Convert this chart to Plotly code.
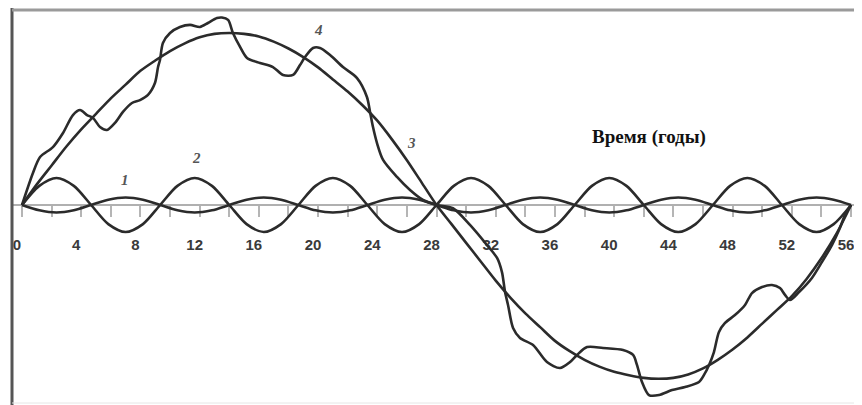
import plotly.graph_objects as go

# ---- data (y in arbitrary units, curve 3 amplitude ~10) ----
years = list(range(0, 57))
curve3 = [0, 1.2, 2.3, 3.4, 4.4, 5.3, 6.2, 7.0, 7.8, 8.4, 8.95, 9.4, 9.75, 9.95, 10.0,
          9.95, 9.8, 9.5, 9.1, 8.6, 8.0, 7.3, 6.6, 5.8, 4.9, 3.8, 2.6, 1.3, 0,
          -1.1, -2.2, -3.3, -4.4, -5.4, -6.3, -7.1, -7.9, -8.5, -9.0, -9.4, -9.7, -9.9,
          -10.05, -10.1, -10.05, -9.85, -9.5, -9.0, -8.4, -7.7, -6.9, -6.1, -5.3, -4.3,
          -3.1, -1.7, 0]

short_x = [0, 1.17, 2.33, 3.5, 4.67, 5.83, 7.0, 8.17, 9.33, 10.5, 11.67, 12.83, 14.0,
           15.17, 16.33, 17.5, 18.67, 19.83, 21.0, 22.17, 23.33, 24.5, 25.67, 26.83, 28.0,
           29.17, 30.33, 31.5, 32.67, 33.83, 35.0, 36.17, 37.33, 38.5, 39.67, 40.83, 42.0,
           43.17, 44.33, 45.5, 46.67, 47.83, 49.0, 50.17, 51.33, 52.5, 53.67, 54.83, 56.0]
curve2 = [0, 1.11, 1.57, 1.11, 0, -1.11, -1.57, -1.11,
          0, 1.11, 1.57, 1.11, 0, -1.11, -1.57, -1.11,
          0, 1.11, 1.57, 1.11, 0, -1.11, -1.57, -1.11,
          0, 1.11, 1.57, 1.11, 0, -1.11, -1.57, -1.11,
          0, 1.11, 1.57, 1.11, 0, -1.11, -1.57, -1.11,
          0, 1.11, 1.57, 1.11, 0, -1.11, -1.57, -1.11, 0]
curve1 = [0, -0.31, -0.44, -0.31, 0, 0.31, 0.44, 0.31,
          0, -0.31, -0.44, -0.31, 0, 0.31, 0.44, 0.31,
          0, -0.31, -0.44, -0.31, 0, 0.31, 0.44, 0.31,
          0, -0.31, -0.44, -0.31, 0, 0.31, 0.44, 0.31,
          0, -0.31, -0.44, -0.31, 0, 0.31, 0.44, 0.31,
          0, -0.31, -0.44, -0.31, 0, 0.31, 0.44, 0.31, 0]

curve4_x = [0, 0.74, 1.22, 2.09, 2.77, 3.44, 3.92, 4.39, 4.80, 5.27, 5.74, 6.28, 6.82,
            7.43, 7.97, 8.51, 8.98, 9.19, 9.32, 9.52, 10.0, 10.67, 11.35, 12.02, 12.56,
            13.17, 13.5, 13.92, 14.25, 14.73, 15.20, 16.08, 16.95, 17.63, 18.31, 18.78,
            19.12, 19.66, 20.13, 20.81, 21.68, 22.63, 23.30, 23.51, 23.71, 23.98, 24.39,
            25.33, 26.21, 27.09, 28.03, 29.11, 30.26, 31.41, 32.09, 32.42, 32.63, 32.83,
            33.17, 33.64, 34.52, 35.46, 36.34, 37.02, 37.49, 38.17, 39.25, 40.60, 41.28,
            41.54, 41.88, 42.35, 43.03, 43.91, 44.79, 45.73, 46.07, 46.41, 46.74, 47.08,
            47.49, 48.16, 48.84, 49.31, 49.99, 50.66, 51.20, 51.54, 51.88, 52.49, 53.36,
            54.04, 54.71, 55.25, 55.59, 56.0]
curve4 = [0, 1.86, 2.79, 3.37, 4.19, 5.23, 5.52, 5.23, 5.06, 4.53, 4.36, 4.77, 5.41,
          5.93, 6.10, 6.40, 7.09, 8.02, 8.43, 9.42, 10.0, 10.35, 10.47, 10.35, 10.58,
          10.87, 10.9, 10.76, 10.0, 9.19, 8.55, 8.26, 8.02, 7.56, 7.56, 8.14,
          8.60, 9.13, 9.13, 8.72, 8.02, 7.38, 6.28, 5.41, 4.53, 3.60, 2.62,
          1.63, 0.87, 0.29, 0, -0.19, -1.16, -2.33, -3.08, -3.90, -5.06, -5.81,
          -7.15, -7.73, -8.14, -9.13, -9.48, -9.13, -8.72, -8.26, -8.31, -8.43, -8.72,
          -9.30, -10.29, -11.05, -11.05, -10.76, -10.58, -10.29, -9.88, -9.30, -8.55, -7.38,
          -6.86, -6.40, -5.81, -5.12, -4.77, -4.65, -4.83, -5.23, -5.52, -5.06, -4.24,
          -3.31, -2.33, -1.34, -0.58, 0]

tick_vals = list(range(0, 57, 4))
tick_text = [str(v) for v in tick_vals]

curve_labels = ["1", "2", "3", "4"]
label_x = [6.96, 11.82, 26.34, 20.0]
label_y = [1.45, 2.73, 3.60, 10.17]

axis_title = "Время (годы)"

# ---- figure ----
LINE = dict(color="#2b2b2b", width=2.6, shape="spline", smoothing=0.8)

fig = go.Figure()
fig.add_trace(go.Scatter(x=years, y=curve3, mode="lines", line=LINE, hoverinfo="skip"))
fig.add_trace(go.Scatter(x=short_x, y=curve2, mode="lines", line=LINE, hoverinfo="skip"))
fig.add_trace(go.Scatter(x=short_x, y=curve1, mode="lines", line=LINE, hoverinfo="skip"))
fig.add_trace(go.Scatter(x=curve4_x, y=curve4, mode="lines", line=LINE, hoverinfo="skip"))

for t, lx, ly in zip(curve_labels, label_x, label_y):
    fig.add_annotation(x=lx, y=ly, text=t, showarrow=False,
                       font=dict(family="Liberation Serif", size=15, color="#555555",
                                 style="italic", weight="bold"))

fig.add_annotation(x=42.35, y=3.95, text=axis_title, showarrow=False,
                   font=dict(family="Liberation Serif", size=19, color="#111111",
                             weight="bold"))

# frame
fig.add_shape(type="line", xref="paper", yref="paper", x0=0, x1=0, y0=-0.01, y1=1.005,
              line=dict(color="#555555", width=3))
fig.add_shape(type="line", xref="paper", yref="paper", x0=0, x1=1.01, y0=1, y1=1,
              line=dict(color="#9a9a9a", width=3))
fig.add_shape(type="line", xref="paper", yref="paper", x0=1, x1=1, y0=0, y1=1,
              line=dict(color="#dddddd", width=1))
fig.add_shape(type="line", xref="paper", yref="paper", x0=0, x1=1, y0=0, y1=0,
              line=dict(color="#e6e6e6", width=1))

fig.update_layout(
    width=854, height=397,
    margin=dict(l=4, r=6, t=2, b=2),
    paper_bgcolor="white", plot_bgcolor="white",
    showlegend=False,
    xaxis=dict(range=[-0.6755, 56.336], anchor="free", position=0.5038,
               showline=True, linecolor="#b0b0b0", linewidth=2,
               showgrid=False, zeroline=False, layer="below traces",
               tickmode="array", tickvals=tick_vals, ticktext=tick_text,
               ticks="outside", ticklen=11, tickwidth=1.5, tickcolor="#b5b5b5",
               minor=dict(dtick=2, tick0=0, ticks="outside", ticklen=11,
                          tickwidth=1.5, tickcolor="#b5b5b5", showgrid=False),
               ticklabelstandoff=15, ticklabeloverflow="allow", ticklabelshift=-5,
               tickfont=dict(family="Liberation Sans", size=15, color="#3a3a3a",
                             weight="bold")),
    yaxis=dict(range=[-11.512, 11.337], visible=False, showgrid=False, zeroline=False),
)

fig.write_html("out.html")
